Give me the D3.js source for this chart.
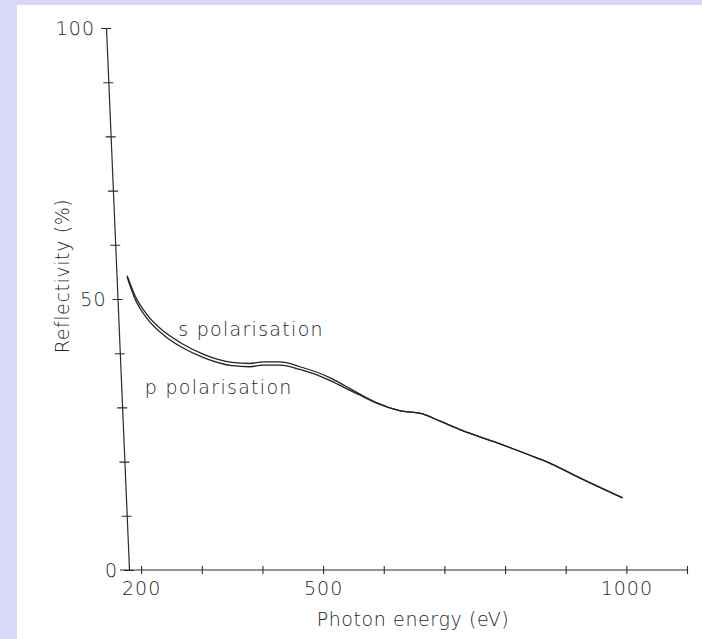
<!DOCTYPE html>
<html>
<head>
<meta charset="utf-8">
<script src="https://cdn.jsdelivr.net/npm/d3@7"></script>
<style>
  html, body { margin: 0; padding: 0; background: #fff; }
  svg { display: block; }
  text { font-family: "DejaVu Sans", sans-serif; fill: #1e1e1e; }
</style>
</head>
<body>
<svg id="chart" width="702" height="639"></svg>
<script>
// ---- data ----
const energy = [177, 190, 212, 240, 267, 305, 350, 379, 401, 429, 462, 511, 536, 560, 588, 626, 664, 692, 730, 786, 852, 868, 923, 994];
const sPol   = [54.3, 50.6, 46.8, 43.8, 41.8, 39.7, 38.3, 38.1, 38.4, 38.4, 37.5, 35.5, 34.0, 32.5, 30.9, 29.4, 28.8, 27.5, 25.7, 23.5, 20.7, 20.0, 17.0, 13.3];
const pPol   = [54.0, 50.0, 46.1, 43.1, 41.1, 39.1, 37.7, 37.5, 37.8, 37.8, 37.0, 35.0, 33.6, 32.3, 30.8, 29.4, 28.8, 27.5, 25.7, 23.5, 20.7, 20.0, 17.0, 13.3];
const xTicks = [200, 300, 400, 500, 600, 700, 800, 900, 1000, 1100];
const xTickLabels = [200, 500, 1000];
const yTicks = [0, 10, 20, 30, 40, 50, 60, 70, 80, 90, 100];
const yTickLabels = [0, 50, 100];
const seriesNames = ["s polarisation", "p polarisation"];

const svg = d3.select("#chart");
const W = 702, H = 639;

// page background with lavender frame (left and top)
svg.append("rect").attr("width", W).attr("height", H).attr("fill", "#d8d8f7");
svg.append("rect").attr("x", 17).attr("y", 5).attr("width", W - 17).attr("height", H - 5).attr("fill", "#ffffff");

const x = d3.scaleLinear().domain([180, 1100]).range([129, 687]);
const y = d3.scaleLinear().domain([0, 100]).range([570, 28]);

const ink = "#2a2a2a";

// ---- x axis ----
const xAxis = svg.append("g").attr("transform", `translate(0,${y(0)})`)
  .call(d3.axisBottom(x).tickValues(xTicks).tickSize(4).tickSizeOuter(0).tickPadding(8)
    .tickFormat(d => xTickLabels.includes(d) ? d : ""));
xAxis.select(".domain").remove();
xAxis.append("line").attr("x1", x(180) - 9).attr("x2", x(1100)).attr("y1", 0).attr("y2", 0)
  .attr("stroke", ink).attr("stroke-width", 1.2);
xAxis.selectAll(".tick line").attr("y1", -4).attr("y2", 4).attr("stroke", ink).attr("stroke-width", 1.1);
xAxis.selectAll(".tick text").style("font-size", "19px").style("letter-spacing", "1px")
  .style("font-weight", 300).attr("fill", "#1e1e1e");

// ---- y axis (slightly slanted like the plotter original) ----
const slant = Math.atan((x(180) - 106) / (y(0) - y(100))) * 180 / Math.PI;
const yAxis = svg.append("g")
  .attr("transform", `translate(${x(180) - (y(0) - y(100)) * Math.tan(slant * Math.PI / 180)},${y(100)}) skewX(${slant}) translate(0,${-y(100)})`)
  .call(d3.axisLeft(y).tickValues(yTicks).tickSize(5).tickSizeOuter(0).tickPadding(6)
    .tickFormat(d => yTickLabels.includes(d) ? d : ""));
yAxis.select(".domain").attr("stroke", ink).attr("stroke-width", 1.2);
yAxis.selectAll(".tick line").attr("x1", 5).attr("x2", -5).attr("stroke", ink).attr("stroke-width", 1.1);
yAxis.selectAll(".tick text").style("font-size", "19px").style("letter-spacing", "1px")
  .style("font-weight", 300).attr("fill", "#1e1e1e");

// ---- curves ----
const line = d3.line().x(d => x(d[0])).y(d => y(d[1])).curve(d3.curveMonotoneX);
[sPol, pPol].forEach(vals => {
  svg.append("path")
    .datum(energy.map((e, i) => [e, vals[i]]))
    .attr("d", line)
    .attr("fill", "none")
    .attr("stroke", "#222")
    .attr("stroke-width", 1.3);
});

// ---- series labels ----
svg.append("text").attr("x", x(261)).attr("y", y(43.2)).text(seriesNames[0])
  .style("font-size", "19px").style("letter-spacing", "1.3px").style("font-weight", 300);
svg.append("text").attr("x", x(206)).attr("y", y(32.5)).text(seriesNames[1])
  .style("font-size", "19px").style("letter-spacing", "1.3px").style("font-weight", 300);

// ---- axis titles ----
svg.append("text").attr("x", 413).attr("y", 626).attr("text-anchor", "middle")
  .text("Photon energy (eV)")
  .style("font-size", "19px").style("letter-spacing", "0.6px").style("font-weight", 300);
svg.append("text").attr("transform", "translate(69,276) rotate(-90)").attr("text-anchor", "middle")
  .text("Reflectivity (%)")
  .style("font-size", "19px").style("letter-spacing", "0.6px").style("font-weight", 300);
</script>
</body>
</html>
